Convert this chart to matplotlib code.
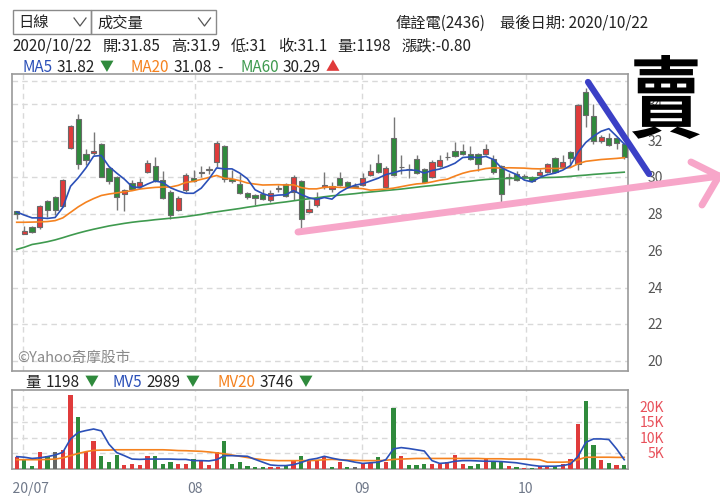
import numpy as np
import matplotlib
matplotlib.use('Agg')
import matplotlib.pyplot as plt
from matplotlib.patches import Rectangle, PathPatch
from matplotlib.lines import Line2D
from matplotlib.textpath import TextPath
from matplotlib.font_manager import FontProperties
from matplotlib.transforms import Affine2D, Bbox, TransformedBbox, blended_transform_factory

plt.rcParams['font.family'] = ['Noto Sans CJK TC', 'DejaVu Sans']

# ── data (daily K bars, 2020/06/30 .. 2020/10/22) ────────────────────────────
opens = [28.15, 26.9, 27.3, 27.3, 28.7, 28.95, 28.45, 31.6, 33.2, 31.3,
         31.35, 31.85, 30.5, 30.05, 29.1, 29.7, 29.55, 30.3, 30.6, 29.85,
         29.2, 28.25, 29.3, 29.95, 30.25, 30.4, 30.85, 31.7, 29.9, 29.65,
         29.15, 29.05, 29.1, 28.8, 29.4, 29.65, 29.2, 29.8, 28.1, 28.5,
         29.5, 29.4, 29.95, 29.75, 29.5, 29.6, 30.15, 30.8, 29.5, 32.15,
         30.55, 30.45, 31.0, 30.45, 30.0, 30.6, 31.1, 31.45, 31.45, 31.3,
         31.3, 31.3, 31.0, 30.6, 29.95, 30.2, 30.05, 30.05, 30.15, 30.3,
         31.05, 30.55, 31.4, 30.75, 34.65, 33.35, 32.0, 32.15, 32.15, 31.85]
highs = [28.2, 27.35, 27.35, 28.5, 28.75, 29.0, 29.9, 32.85, 33.45, 31.55,
         32.5, 31.9, 30.55, 30.1, 29.4, 29.85, 29.95, 30.95, 31.1, 30.35,
         29.3, 29.0, 30.25, 30.4, 30.6, 30.65, 32.0, 31.75, 30.4, 30.2,
         29.2, 29.1, 29.35, 29.3, 29.6, 29.7, 30.15, 29.85, 28.75, 29.2,
         30.3, 29.75, 30.3, 29.8, 29.7, 30.25, 30.75, 31.3, 30.6, 33.3,
         31.25, 30.75, 31.2, 30.5, 30.95, 31.25, 31.4, 31.95, 31.8, 31.7,
         31.35, 31.85, 31.2, 30.7, 30.25, 30.35, 30.2, 30.1, 30.45, 30.8,
         31.1, 31.25, 31.45, 34.0, 34.9, 34.0, 32.3, 32.4, 32.2, 31.9]
lows = [27.75, 26.9, 27.0, 27.2, 27.85, 27.95, 28.4, 31.55, 30.45, 30.7,
        31.2, 30.0, 29.65, 28.25, 28.2, 29.35, 29.45, 30.25, 29.75, 28.85,
        27.75, 28.2, 29.2, 29.75, 30.0, 30.2, 30.55, 29.75, 29.7, 29.1,
        28.85, 28.5, 28.8, 28.65, 29.2, 28.95, 28.75, 27.2, 28.05, 28.4,
        29.4, 29.2, 29.55, 29.45, 29.45, 29.55, 30.1, 30.25, 29.45, 30.1,
        30.2, 29.95, 30.2, 29.7, 29.95, 30.55, 30.95, 31.1, 31.25, 30.95,
        30.35, 31.25, 30.2, 28.55, 29.6, 29.8, 29.9, 29.75, 30.1, 30.25,
        30.25, 30.5, 30.6, 30.4, 32.75, 31.8, 31.9, 31.7, 31.55, 31.0]
closes = [28.0, 27.1, 27.05, 28.45, 28.25, 28.25, 29.85, 32.8, 30.75, 30.95,
          31.45, 30.05, 29.8, 28.95, 29.3, 29.4, 29.75, 30.8, 29.8, 28.9,
          27.95, 28.9, 30.15, 29.8, 30.3, 30.45, 31.9, 29.9, 29.8, 29.15,
          28.95, 28.9, 28.85, 29.15, 29.4, 29.0, 30.05, 27.75, 28.3, 28.9,
          29.6, 29.55, 29.6, 29.5, 29.5, 29.95, 30.35, 30.3, 30.5, 30.15,
          30.55, 30.45, 30.25, 29.75, 30.85, 30.95, 31.1, 31.15, 31.3, 31.0,
          30.75, 31.55, 30.3, 29.1, 30.0, 29.85, 30.05, 29.8, 30.3, 30.75,
          30.3, 30.85, 31.05, 33.95, 33.4, 32.0, 32.2, 31.75, 31.9, 31.1]
prev_close = 27.9

ma5 = [28.12, 27.95, 27.8, 27.8, 27.77, 27.82, 28.37, 29.52, 29.98, 30.52,
       31.16, 31.2, 30.6, 30.24, 29.91, 29.5, 29.44, 29.64, 29.81, 29.73,
       29.44, 29.27, 29.14, 29.14, 29.42, 29.92, 30.52, 30.47, 30.47, 30.24,
       29.93, 29.33, 29.12, 28.99, 29.04, 29.06, 29.29, 29.07, 28.9, 28.8,
       28.91, 28.82, 29.19, 29.43, 29.58, 29.66, 29.81, 29.96, 30.16, 30.26,
       30.38, 30.41, 30.39, 30.24, 30.38, 30.46, 30.6, 30.78, 31.09, 31.12,
       31.08, 31.15, 30.98, 30.54, 30.34, 30.16, 29.86, 29.76, 30.0, 30.15,
       30.24, 30.4, 30.65, 31.38, 31.91, 32.25, 32.52, 32.66, 32.25, 31.82]
ma20 = [27.56, 27.56, 27.57, 27.58, 27.6, 27.65, 27.8, 28.1, 28.4, 28.65,
        28.85, 29.02, 29.1, 29.16, 29.22, 29.28, 29.37, 29.42, 29.46, 29.48,
        29.48, 29.57, 29.73, 29.79, 29.9, 30.0, 30.11, 29.96, 29.92, 29.83,
        29.7, 29.64, 29.59, 29.6, 29.61, 29.59, 29.6, 29.45, 29.38, 29.38,
        29.46, 29.49, 29.46, 29.45, 29.42, 29.39, 29.31, 29.34, 29.37, 29.42,
        29.5, 29.58, 29.65, 29.68, 29.76, 29.85, 29.91, 30.08, 30.23, 30.34,
        30.4, 30.49, 30.53, 30.51, 30.53, 30.52, 30.51, 30.48, 30.47, 30.5,
        30.49, 30.5, 30.54, 30.75, 30.88, 30.93, 30.98, 31.01, 31.04, 31.08]
ma60 = [26.08, 26.2, 26.35, 26.42, 26.5, 26.6, 26.72, 26.85, 26.97, 27.08,
        27.18, 27.27, 27.36, 27.43, 27.5, 27.56, 27.61, 27.65, 27.7, 27.74,
        27.78, 27.82, 27.87, 27.93, 27.99, 28.07, 28.13, 28.19, 28.25, 28.31,
        28.38, 28.44, 28.51, 28.56, 28.62, 28.67, 28.73, 28.79, 28.84, 28.89,
        28.95, 29.0, 29.04, 29.08, 29.12, 29.17, 29.21, 29.25, 29.29, 29.33,
        29.37, 29.42, 29.47, 29.52, 29.56, 29.61, 29.66, 29.71, 29.76, 29.8,
        29.85, 29.89, 29.92, 29.94, 29.95, 29.96, 29.97, 29.98, 29.99, 30.0,
        30.01, 30.03, 30.06, 30.1, 30.13, 30.17, 30.2, 30.23, 30.26, 30.29]

volume = [3800, 3200, 1100, 5600, 4300, 5400, 6100, 24000, 16900, 5400,
          8900, 4300, 2200, 4600, 1300, 1600, 1300, 4300, 4100, 1600,
          2200, 1600, 1600, 3200, 2700, 1300, 5400, 8900, 1600, 2200,
          1100, 800, 800, 800, 800, 1100, 2700, 4300, 3000, 3000,
          4300, 800, 2200, 800, 800, 1900, 1900, 3800, 2400, 19600,
          4100, 1300, 1300, 1600, 1600, 1600, 2200, 4600, 1600, 1000,
          1600, 3200, 2200, 2200, 1000, 800, 300, 300, 1000, 1000,
          1000, 1600, 3200, 14500, 22000, 7800, 3000, 1800, 1150, 1198]
mv5 = [4000, 3800, 3400, 3600, 4000, 4500, 5400, 9700, 11800, 12400,
       12900, 12300, 8000, 5300, 4300, 3200, 3100, 3200, 3200, 3200,
       3200, 3100, 3100, 2700, 2700, 2600, 3000, 4300, 4300, 4200,
       4100, 3100, 2200, 1300, 1100, 1100, 1400, 2100, 3000, 3400,
       4100, 3500, 3000, 2700, 2200, 1800, 2000, 2200, 3000, 6500,
       6900, 6600, 6200, 5800, 2700, 1800, 2000, 2500, 2700, 2700,
       2600, 2500, 2500, 2400, 2200, 2000, 1600, 1200, 900, 900,
       900, 1100, 1600, 4100, 8600, 9700, 9700, 9500, 6500, 2989]
mv20 = [3000, 3000, 3000, 3000, 3100, 3200, 3600, 4300, 5000, 5600,
        6000, 6100, 6100, 6200, 6200, 6200, 6200, 6200, 6200, 6200,
        6100, 5950, 5900, 5800, 5700, 5500, 5200, 4900, 4500, 4100,
        3700, 3300, 3000, 2800, 2700, 2700, 2700, 2700, 2700, 2800,
        3000, 3100, 3000, 2900, 2800, 2700, 2700, 2700, 2800, 3100,
        3200, 3300, 3400, 3400, 3400, 3400, 3400, 3400, 3400, 3400,
        3400, 3300, 3300, 3300, 3200, 3200, 3200, 3100, 3000, 2200,
        2200, 2200, 2300, 3000, 3800, 3800, 3800, 3800, 3750, 3746]

month_pos = [0.86, 23.19, 44.94, 66.19]
month_labels = ['2020/07', '08', '09', '10']
price_ticks = [20, 22, 24, 26, 28, 30, 32, 34]
vol_ticks = [5000, 10000, 15000, 20000]
vol_tick_labels = ['5K', '10K', '15K', '20K']

# ── colours ──────────────────────────────────────────────────────────────────
RED = '#e03b3b'
GREEN = '#2f8a3c'
GREY = '#777777'
BLUE = '#2b50b8'
ORANGE = '#f5821f'
MAGREEN = '#3f9a4f'
GRID = '#d9d9d9'
INK = '#222222'

W, H = 720, 502
fig = plt.figure(figsize=(W / 100, H / 100), dpi=100)
renderer = fig.canvas.get_renderer()


def fx(px):
    return px / W


def fy(py):
    return 1 - py / H


def ftext(px, py, s, **kw):
    kw.setdefault('fontsize', 11)
    kw.setdefault('color', INK)
    return fig.text(fx(px), fy(py), s, ha='left', va='center', **kw)


def text_run(px, py, parts):
    """parts: (text, colour, fontsize, gap_after_px); returns end x in px."""
    for s, col, fs, gap in parts:
        t = ftext(px, py, s, color=col, fontsize=fs)
        px = t.get_window_extent(renderer).x1 + gap
    return px


ax = fig.add_axes([fx(12), fy(372), (628 - 12) / W, (372 - 75) / H])
axv = fig.add_axes([fx(12), fy(470), (628 - 12) / W, (470 - 390.7) / H])

o = np.array(opens)
h = np.array(highs)
l = np.array(lows)
c = np.array(closes)
x = np.arange(len(c))

# ── price panel ──────────────────────────────────────────────────────────────
ax.vlines(x, l, h, color=GREY, lw=1.0, zorder=2)
body_col = np.where(c > o, RED, np.where(c < o, GREEN, GREY))
ax.bar(x, np.maximum(np.abs(c - o), 0.03), bottom=np.minimum(o, c), width=0.68,
       color=body_col, edgecolor='#6a6a6a', linewidth=0.8, zorder=3)
ax.plot(x, ma60, color=MAGREEN, lw=1.2, zorder=4)
ax.plot(x, ma20, color=ORANGE, lw=1.2, zorder=4)
ax.plot(x, ma5, color=BLUE, lw=1.2, zorder=5)

ax.set_xlim(-0.61, 79.49)
ax.set_ylim(19.455, 35.64)
ax.set_yticks(price_ticks + [35.25])
ax.set_xticks(month_pos)
ax.grid(True, ls=(0, (4, 3)), color=GRID, lw=1)
ax.set_axisbelow(True)
ax.tick_params(left=False, bottom=False, labelleft=False, labelbottom=False)
tr = blended_transform_factory(ax.transAxes, ax.transData)
for v in price_ticks:
    ax.text((663 - 12) / 616, v, str(v), transform=tr, ha='right', va='center',
            fontsize=10, color='#555555')
ax.text(0.008, 0.025, '©Yahoo奇摩股市', transform=ax.transAxes, fontsize=10.5,
        color='#8a8a8a', ha='left', va='bottom')

# ── volume panel ─────────────────────────────────────────────────────────────
prev = np.concatenate([[prev_close], c[:-1]])
vol_col = np.where(c > prev, RED, np.where(c < prev, GREEN, '#666666'))
axv.bar(x, volume, width=0.55, color=vol_col, zorder=3)
axv.plot(x, mv20, color=ORANGE, lw=1.2, zorder=4)
axv.plot(x, mv5, color=BLUE, lw=1.2, zorder=5)
axv.set_xlim(-0.61, 79.49)
axv.set_ylim(0, 25580)
axv.set_yticks(vol_ticks)
axv.set_xticks(month_pos)
axv.set_xticklabels(month_labels)
axv.grid(True, ls=(0, (4, 3)), color=GRID, lw=1)
axv.set_axisbelow(True)
axv.tick_params(left=False, bottom=False, labelleft=False, length=0, pad=9,
                labelsize=10, labelcolor='#6f7889')
trv = blended_transform_factory(axv.transAxes, axv.transData)
for v, s in zip(vol_ticks, vol_tick_labels):
    axv.text((664 - 12) / 616, v, s, transform=trv, ha='right', va='center',
             fontsize=10, color='#e8505a')

# the first month label is cut at the chart's left edge, as on the site
clip = TransformedBbox(Bbox([[fx(12), 0], [1, 1]]), fig.transFigure)
for lbl in axv.get_xticklabels():
    lbl.set_clip_box(clip)
    lbl.set_clip_on(True)

for a in (ax, axv):
    for sp in a.spines.values():
        sp.set_color('#9a9a9a')
        sp.set_linewidth(1.2)

# ── header ───────────────────────────────────────────────────────────────────
for x0, x1 in [(12.5, 91.4), (91.4, 215.5)]:
    fig.add_artist(Rectangle((fx(x0), fy(35)), (x1 - x0) / W, 24.3 / H,
                             transform=fig.transFigure, fill=False,
                             edgecolor='#8a8a8a', lw=1))
for cx in (80, 204.5):
    fig.add_artist(Line2D([fx(cx - 6), fx(cx), fx(cx + 6)], [fy(19), fy(27), fy(19)],
                          transform=fig.transFigure, color='#555555', lw=0.9))
ftext(18, 23, '日線')
ftext(97, 23, '成交量')
ftext(395, 23, '偉詮電(2436)')
ftext(500, 23, '最後日期: 2020/10/22')

quote = ['2020/10/22', '開:31.85', '高:31.9', '低:31', '收:31.1', '量:1198', '漲跌:-0.80']
text_run(12.5, 46, [(s, INK, 11, 10.5) for s in quote])

text_run(22, 67, [('MA5', BLUE, 11, 4), ('31.82', INK, 11, 5), ('▼', GREEN, 10, 0)])
text_run(131, 67, [('MA20', ORANGE, 11, 4), ('31.08', INK, 11, 5), ('-', INK, 11, 0)])
text_run(240, 67, [('MA60', MAGREEN, 11, 4), ('30.29', INK, 11, 5), ('▲', RED, 10, 0)])

text_run(25, 382.5, [('量', INK, 11, 5), ('1198', INK, 11, 5), ('▼', GREEN, 10, 0)])
text_run(113, 382.5, [('MV5', BLUE, 11, 4), ('2989', INK, 11, 5), ('▼', GREEN, 10, 0)])
text_run(218, 382.5, [('MV20', ORANGE, 11, 4), ('3746', INK, 11, 5), ('▼', GREEN, 10, 0)])

# ── hand-drawn marks ─────────────────────────────────────────────────────────
PINK = '#f7a6c9'
fig.add_artist(Line2D([fx(298), fx(720)], [fy(233), fy(177)], transform=fig.transFigure,
                      color=PINK, lw=5, solid_capstyle='round'))
fig.add_artist(Line2D([fx(691), fx(719), fx(702)], [fy(163), fy(177), fy(206)],
                      transform=fig.transFigure, color=PINK, lw=5,
                      solid_capstyle='round', solid_joinstyle='round'))
fig.add_artist(Line2D([fx(588), fx(649)], [fy(83), fy(175)], transform=fig.transFigure,
                      color='#3b40c6', lw=4.5, solid_capstyle='round'))

tp = TextPath((0, 0), '賣', size=100,
              prop=FontProperties(family='Noto Sans CJK TC', weight='bold'))
bb = tp.get_extents()
x0, x1 = 632 / 100, 700 / 100
y0, y1 = (H - 140) / 100, (H - 56) / 100
glyph_tr = (Affine2D().translate(-bb.x0, -bb.y0)
            .scale((x1 - x0) / bb.width, (y1 - y0) / bb.height)
            .translate(x0, y0) + fig.dpi_scale_trans)
fig.add_artist(PathPatch(tp, transform=glyph_tr, facecolor='black', edgecolor='none'))

fig.savefig('out.png', dpi=100)
